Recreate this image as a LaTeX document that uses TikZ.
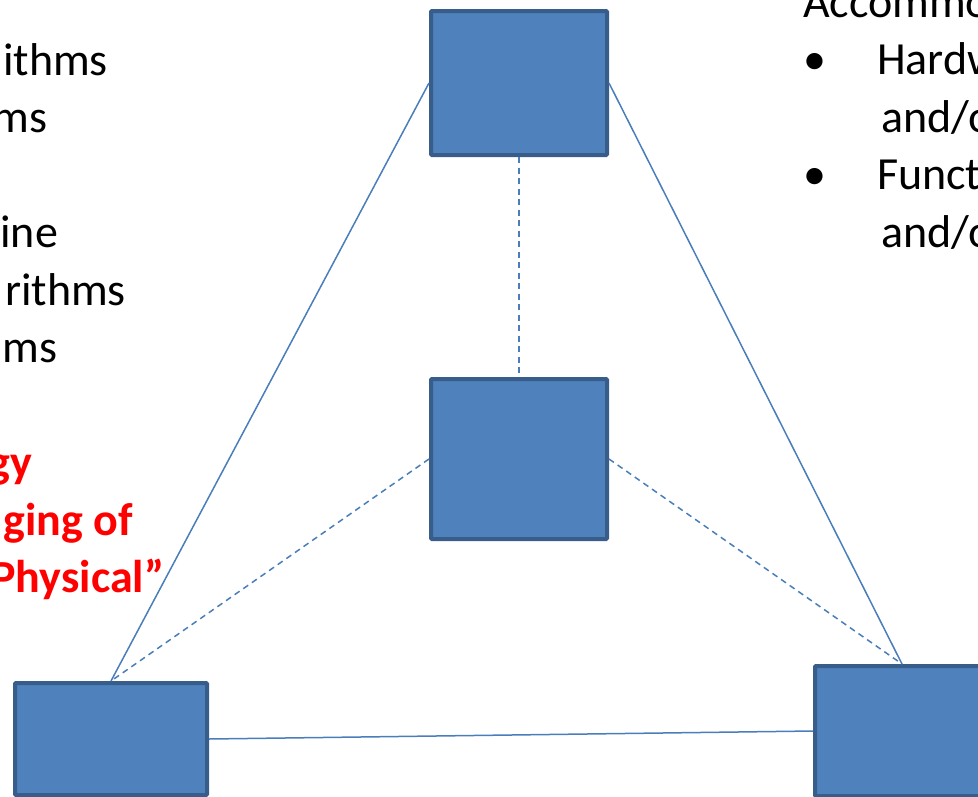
\documentclass[tikz,border=0pt]{standalone}
\usepackage{fontspec}
\setmainfont{Carlito}
\definecolor{boxfill}{HTML}{4F81BD}
\definecolor{boxline}{HTML}{385D8A}
\definecolor{linkblue}{HTML}{4A7EBB}
\definecolor{alertred}{HTML}{FF0000}
\begin{document}
\begin{tikzpicture}[x=1pt,y=-1pt,
  block/.style={draw=boxline, fill=boxfill, line width=4pt, rounded corners=1pt, inner sep=0pt},
  link/.style={draw=linkblue, line width=1.5pt},
  dashlink/.style={link, dash pattern=on 6pt off 4.5pt},
  txt/.style={inner sep=0pt, outer sep=0pt, font=\fontsize{46}{57.5}\selectfont},
  redtxt/.style={txt, text=alertred, font=\fontsize{46}{57.5}\selectfont\bfseries}]
\useasboundingbox (0,0) rectangle (978,796);
\clip (0,0) rectangle (978,796);

% the four blocks
\node[block, minimum width=176pt, minimum height=144pt] (top) at (519,83) {};
\node[block, minimum width=176pt, minimum height=160pt] (mid) at (519,459) {};
\node[block, minimum width=192pt, minimum height=112pt] (bl) at (111,739) {};
\node[block, minimum width=174pt, minimum height=130pt] (br) at (902,731) {};

% solid outer triangle
\draw[link] (top.west) -- (bl.north);
\draw[link] (top.east) -- (br.north);
\draw[link] (bl.east) -- (br.west);

% dashed spokes to the centre block
\draw[dashlink] (top.south) -- (mid.north);
\draw[dashlink] (mid.west) -- (bl.north);
\draw[dashlink] (mid.east) -- (br.north);

% left column of text
\node[txt, anchor=base east] (l1) at (108,75) {ithms};
\node[txt, anchor=base east] (l2) at (47,132.5) {ms};
\node[txt, anchor=base east] (l3) at (58,247.5) {ine};
\node[txt, anchor=base east] (l4) at (126,305) {rithms};
\node[txt, anchor=base east] (l5) at (57,362.5) {ms};
\node[redtxt, anchor=base east] (r1) at (32,477.5) {gy};
\node[redtxt, anchor=base east] (r2) at (133,535) {ging of};
\node[redtxt, anchor=base east] (r3) at (164,592.5) {Physical”};

% right column of text
\node[txt, anchor=base west] (a0) at (803,17) {Accommo};
\node[txt, anchor=base west] (b1) at (803,74.5) {•};
\node[txt, anchor=base west] (a1) at (877,74.5) {Hardwa};
\node[txt, anchor=base west] (a2) at (881,132) {and/o};
\node[txt, anchor=base west] (b2) at (803,189.5) {•};
\node[txt, anchor=base west] (a3) at (877,189.5) {Functi};
\node[txt, anchor=base west] (a4) at (881,247) {and/o};
\end{tikzpicture}
\end{document}
